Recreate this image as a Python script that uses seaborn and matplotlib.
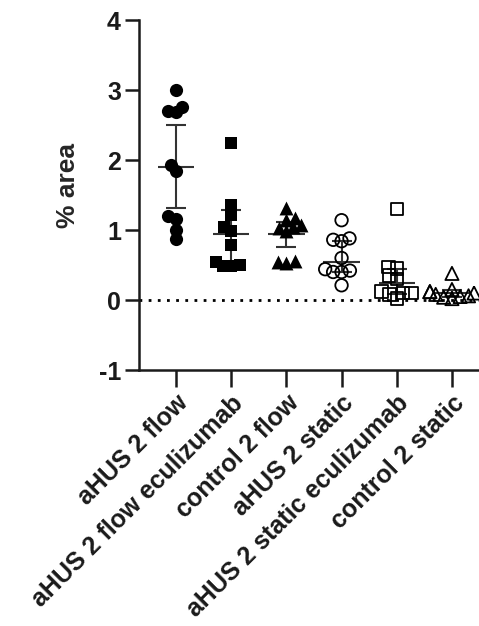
import numpy as np
import pandas as pd
import matplotlib
matplotlib.use("Agg")
import matplotlib.pyplot as plt
import seaborn as sns

groups = ["aHUS 2 flow", "aHUS 2 flow eculizumab", "control 2 flow",
          "aHUS 2 static", "aHUS 2 static eculizumab", "control 2 static"]
ahus_flow = [3.00, 2.76, 2.70, 2.68, 1.93, 1.84, 1.20, 1.16, 1.00, 0.87]
ahus_flow_ecu = [2.25, 1.36, 1.21, 1.05, 0.98, 0.79, 0.55, 0.50, 0.48, 0.48]
control_flow = [1.31, 1.17, 1.15, 1.07, 1.05, 1.03, 0.98, 0.56, 0.55, 0.53]
ahus_static = [1.14, 0.88, 0.86, 0.84, 0.60, 0.44, 0.42, 0.40, 0.40, 0.21]
ahus_static_ecu = [1.30, 0.47, 0.45, 0.35, 0.30, 0.12, 0.10, 0.10, 0.08, 0.02]
control_static = [0.38, 0.15, 0.12, 0.12, 0.10, 0.08, 0.06, 0.05, 0.04, 0.02]
center = [1.90, 0.95, 0.95, 0.55, 0.24, 0.10]
lower = [1.32, 0.55, 0.76, 0.40, 0.08, 0.05]
upper = [2.50, 1.28, 1.12, 0.85, 0.45, 0.15]
yticks = [-1, 0, 1, 2, 3, 4]
ylabel = "% area"

series = [ahus_flow, ahus_flow_ecu, control_flow, ahus_static, ahus_static_ecu, control_static]
markers = ["o", "s", "^", "o", "s", "^"]
filled = [True, True, True, False, False, False]
sizes = [9.5, 9.0, 10.0, 9.0, 9.0, 9.5]
swarm_size = 5.8

df = pd.DataFrame({
    "group": np.repeat(groups, [len(s) for s in series]),
    "value": np.concatenate(series),
})

sns.set_style("ticks")
plt.rcParams["font.family"] = ["Liberation Sans", "DejaVu Sans"]
plt.rcParams["font.weight"] = "bold"

fig = plt.figure(figsize=(4.79, 6.26), dpi=100)
ax = fig.add_axes([139 / 479, 1 - 370 / 626, 1 - 139 / 479, (370 - 20) / 626])

point_sets = []
for i, g in enumerate(groups):
    sub = df[df["group"] == g]
    n_before = len(ax.collections)
    sns.swarmplot(data=sub, x="group", y="value", order=groups, ax=ax,
                  marker=markers[i], size=swarm_size, color="black",
                  linewidth=0, zorder=3, warn_thresh=1.0)
    point_sets.append((i, ax.collections[n_before:]))

for i in range(len(groups)):
    ax.hlines(center[i], i - 0.33, i + 0.33, color="#333333", lw=1.5, zorder=2)
    ax.vlines(i, lower[i], upper[i], color="#333333", lw=1.5, zorder=2)
    ax.hlines([lower[i], upper[i]], i - 0.18, i + 0.18, color="#333333", lw=1.5, zorder=2)

ax.axhline(0, color="black", lw=2.0, linestyle=(0, (1, 2.3)), zorder=1)

ax.set_xlim(-0.67, 5.49)
ax.set_ylim(-1, 4)
ax.set_yticks(yticks)
ax.set_yticklabels([str(t) for t in yticks], fontsize=18, fontweight="bold")
ax.set_xticks(range(len(groups)))
ax.set_xticklabels(groups, rotation=45, ha="right", rotation_mode="anchor",
                   fontsize=18, fontweight="bold")
ax.set_xlabel("")
ax.set_ylabel(ylabel, fontsize=19, fontweight="bold")
ax.yaxis.set_label_coords(-0.174, 0.526)

for s in ["top", "right"]:
    ax.spines[s].set_visible(False)
for s in ["left", "bottom"]:
    ax.spines[s].set_linewidth(1.8)
    ax.spines[s].set_color("#1a1a1a")
ax.tick_params(axis="y", length=10, width=1.8, colors="#1a1a1a", pad=3)
ax.tick_params(axis="x", length=12, width=1.8, colors="#1a1a1a", pad=3)

# compute compact swarm layout once, then freeze it and enlarge the markers
fig.canvas.draw()
for i, colls in point_sets:
    for c in colls:
        if "draw" in c.__dict__:
            del c.__dict__["draw"]
        c.set_sizes([sizes[i] ** 2])
        if filled[i]:
            c.set_facecolor("black")
            c.set_linewidth(0)
        else:
            c.set_facecolor("none")
            c.set_edgecolor("black")
            c.set_linewidth(1.3)

fig.savefig("out.png", dpi=100, facecolor="white")
